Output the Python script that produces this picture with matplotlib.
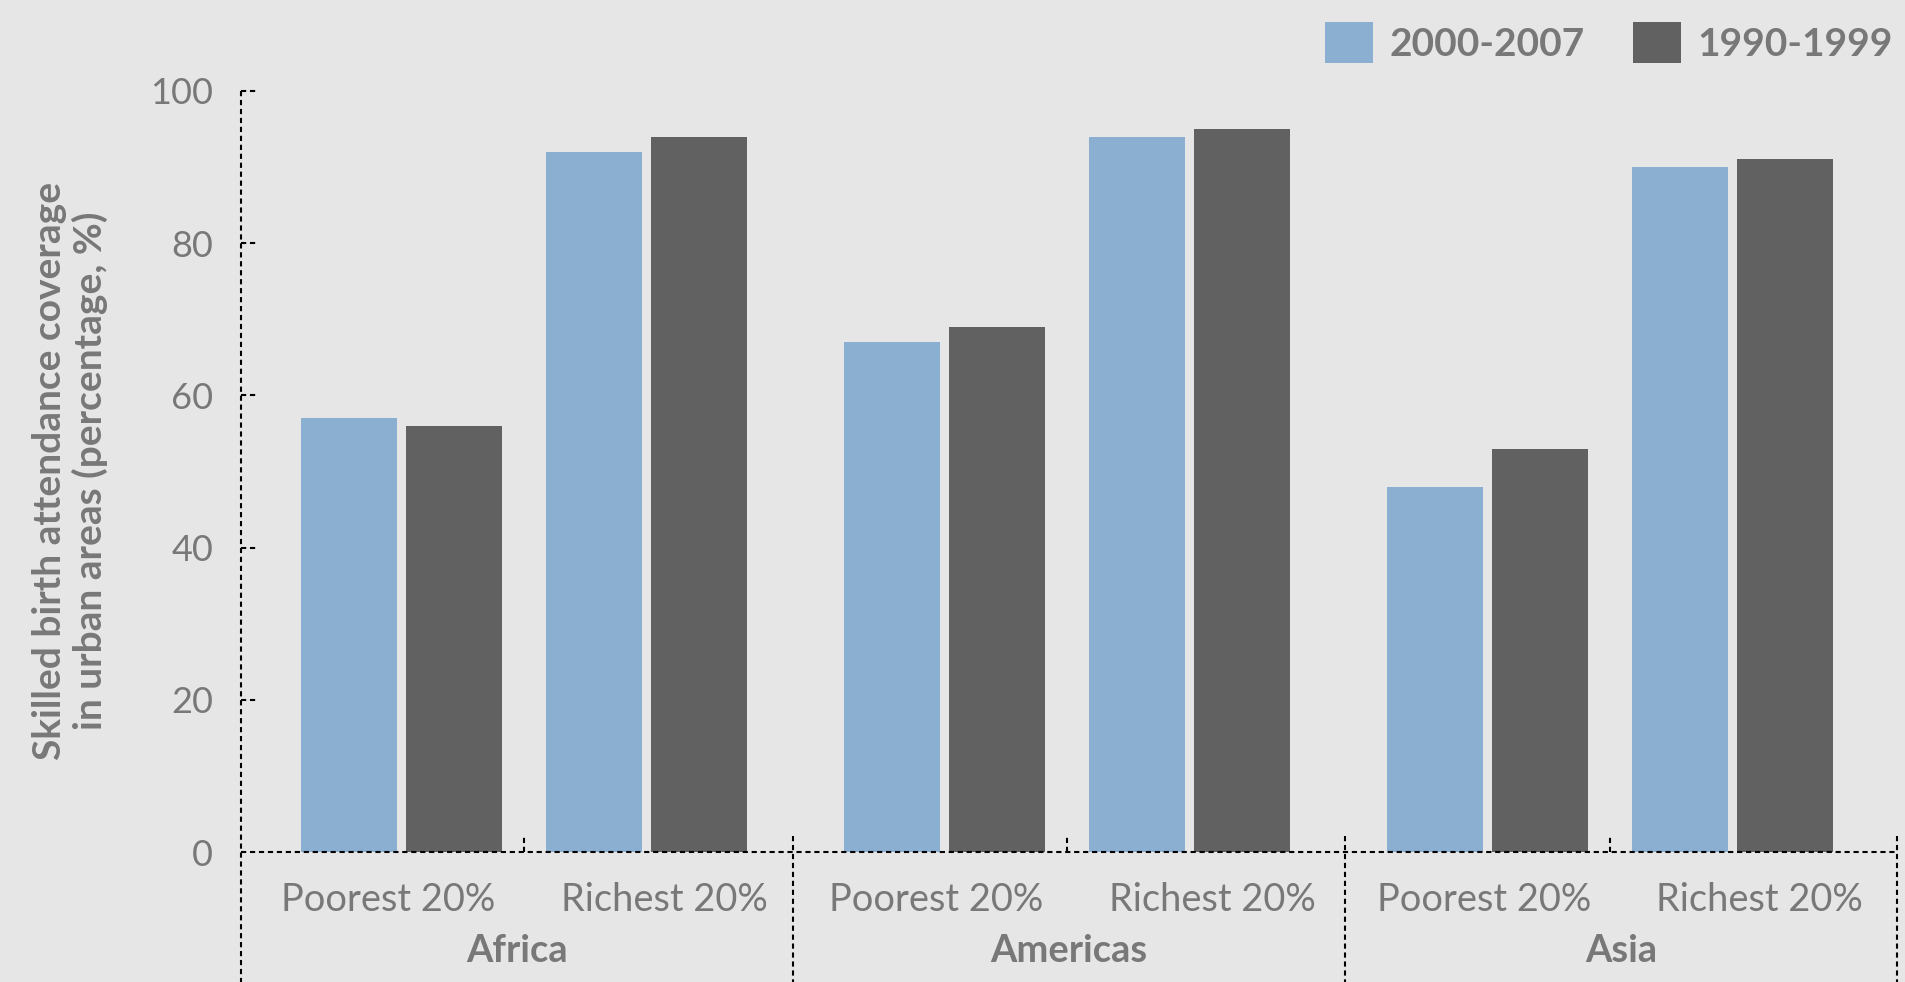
import numpy as np
import matplotlib.pyplot as plt
from matplotlib.transforms import blended_transform_factory

# data
regions = ['Africa', 'Americas', 'Asia']
quintiles = ['Poorest 20%', 'Richest 20%']
series_labels = ['2000-2007', '1990-1999']
recent = [57, 92, 67, 94, 48, 90]    # 2000-2007
earlier = [56, 94, 69, 95, 53, 91]   # 1990-1999
yticks = [0, 20, 40, 60, 80, 100]

BG = '#e6e6e6'
BLUE = '#8aafd0'
DARK = '#616161'
TXT = '#787878'

plt.rcParams['font.family'] = ['Lato', 'DejaVu Sans']

W = 2.253      # width of one region block between dividers (x units)
WB = 2.2176    # spacing of bar groups from one region to the next
OFF = 0.654    # centre of first bar pair
BW = 0.392     # bar width
SHIFT = 0.214  # half distance between paired bars

pos = np.array([g * WB + OFF + s for g in range(len(regions)) for s in range(len(quintiles))])

fig = plt.figure(figsize=(19.05, 9.82), dpi=100, facecolor=BG)
ax = fig.add_axes([241 / 1905, 1 - 852 / 982, (1897 - 241) / 1905, (852 - 91) / 982])
ax.set_facecolor(BG)

b1 = ax.bar(pos - SHIFT, recent, BW, color=BLUE, label=series_labels[0])
b2 = ax.bar(pos + SHIFT, earlier, BW, color=DARK, label=series_labels[1])

ax.set_xlim(0, len(regions) * W)
ax.set_ylim(0, 100)
for s in ax.spines.values():
    s.set_visible(False)
ax.set_xticks([])
ax.set_yticks(yticks)
ax.tick_params(axis='y', length=0, pad=20, labelsize=26, labelcolor=TXT)

DOT = dict(color='black', lw=1.5, linestyle=(0, (2.5, 1.8)), clip_on=False)
xtrans = blended_transform_factory(ax.transData, ax.transAxes)
ytrans = blended_transform_factory(ax.transAxes, ax.transData)

# dotted axis lines
ax.plot([0, 0], [1, -0.2], transform=ax.transAxes, **DOT)
ax.plot([0, len(regions) * W], [0, 0], **DOT)
for t in yticks[1:]:
    ax.plot([0, 0.009], [t, t], transform=ytrans, **DOT)

# region dividers and small separators between quintiles
for g, r in enumerate(regions):
    left, right = g * W, (g + 1) * W
    sub = g * WB + OFF + 0.5
    ax.plot([right] * 2, [0.021, -0.2], transform=xtrans, **DOT)
    ax.plot([sub] * 2, [0, 0.021], transform=xtrans, **DOT)
    # quintile labels centred in their cells, region label centred in block
    for cx, lab in zip([(left + sub) / 2, (sub + right) / 2], quintiles):
        ax.text(cx + 0.025, -0.0775, lab, transform=xtrans, ha='center', va='baseline',
                fontsize=27.4, color=TXT)
    ax.text((left + right) / 2, -0.1445, r, transform=xtrans, ha='center', va='baseline',
            fontsize=27.4, fontweight='bold', color=TXT)

fig.text(0.0367, 0.5204, 'Skilled birth attendance coverage\nin urban areas (percentage, %)',
         rotation=90, ha='center', va='center', fontsize=28, fontweight='bold', color=TXT,
         linespacing=1.15)

leg = ax.legend(handles=[b1, b2], loc='upper right', bbox_to_anchor=(1893 / 1905, 1 - 22 / 982),
                bbox_transform=fig.transFigure, ncol=2, frameon=False,
                prop={'weight': 'bold', 'size': 28}, handlelength=1.24, handleheight=1.26,
                handletextpad=0.42, columnspacing=1.24, borderpad=0, borderaxespad=0)
for t in leg.get_texts():
    t.set_color(TXT)

fig.savefig('out.png', dpi=100, facecolor=BG)
